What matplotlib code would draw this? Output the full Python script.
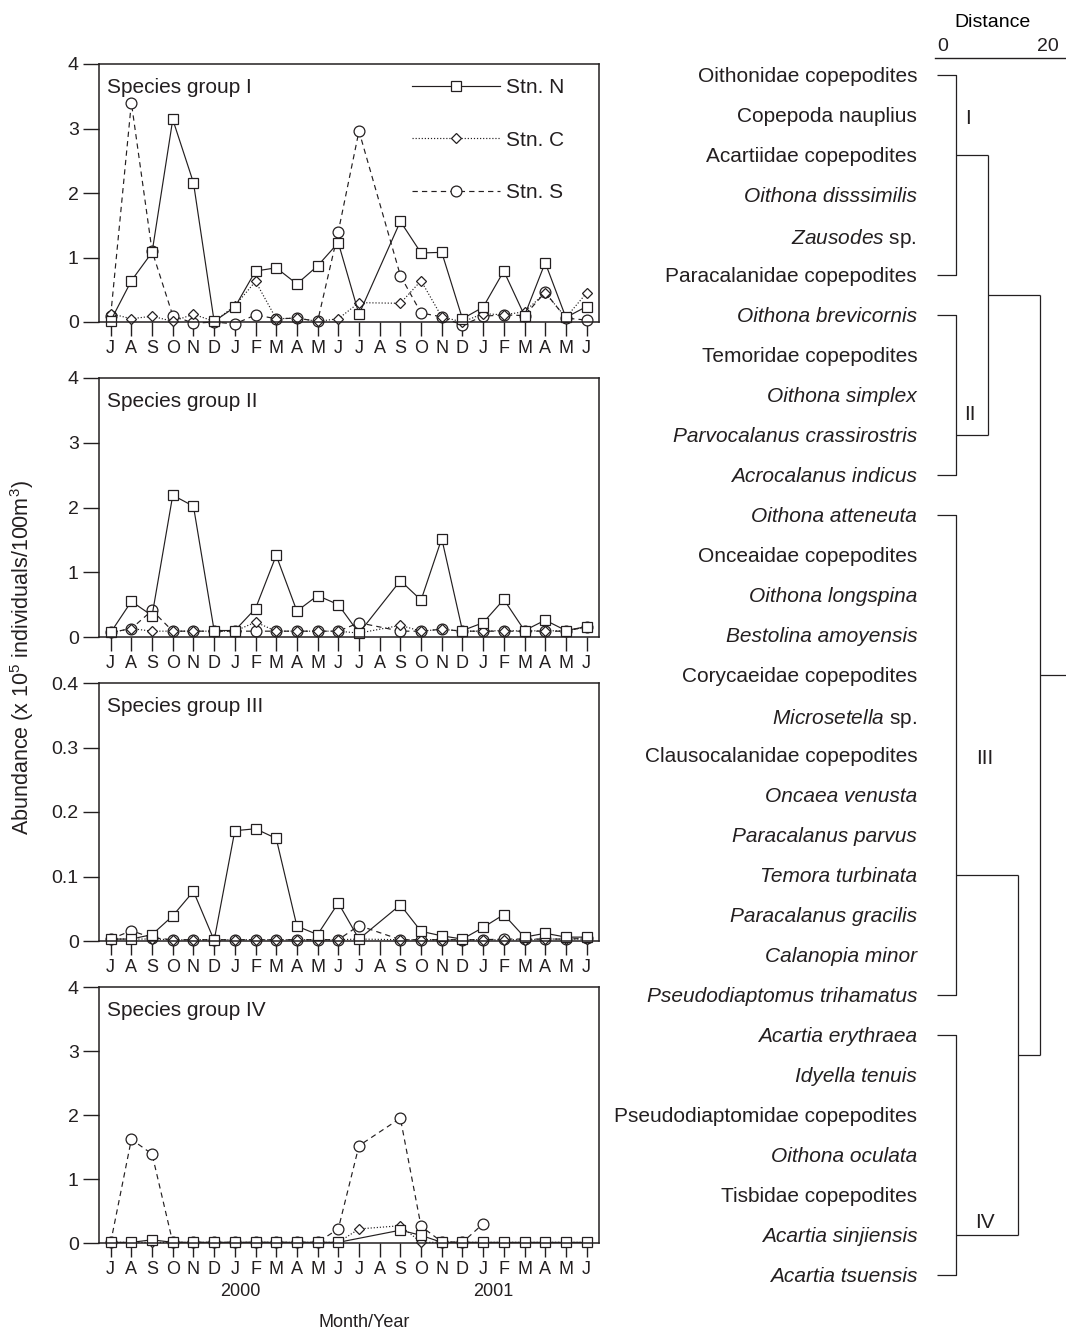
import numpy as np
import matplotlib
matplotlib.use("Agg")
import matplotlib.pyplot as plt

plt.rcParams['font.family'] = ['Liberation Sans', 'DejaVu Sans']
plt.rcParams['mathtext.fontset'] = 'custom'
plt.rcParams['mathtext.rm'] = 'Liberation Sans'
plt.rcParams['mathtext.it'] = 'Liberation Sans:italic'
ink = '#231f20'
plt.rcParams['text.color'] = ink
plt.rcParams['axes.edgecolor'] = ink
plt.rcParams['xtick.color'] = ink
plt.rcParams['ytick.color'] = ink

nan = np.nan

# months from July 1999 to June 2001 (Aug 2000 not sampled)
months = ['J', 'A', 'S', 'O', 'N', 'D', 'J', 'F', 'M', 'A', 'M', 'J',
          'J', 'A', 'S', 'O', 'N', 'D', 'J', 'F', 'M', 'A', 'M', 'J']

# species group I
g1_N = [0.02, 0.64, 1.08, 3.14, 2.16, 0.01, 0.23, 0.79, 0.84, 0.59, 0.87, 1.23,
        0.12, nan, 1.56, 1.07, 1.08, 0.05, 0.23, 0.79, 0.10, 0.92, 0.07, 0.24]
g1_C = [0.13, 0.05, 0.09, 0.01, 0.12, 0.01, 0.25, 0.63, 0.05, 0.06, 0.01, 0.05,
        0.30, nan, 0.29, 0.64, 0.08, 0.00, 0.13, 0.11, 0.16, 0.45, 0.07, 0.45]
g1_S = [0.10, 3.40, 1.10, 0.10, -0.02, 0.00, -0.03, 0.11, 0.05, 0.06, 0.01, 1.40,
        2.96, nan, 0.72, 0.14, 0.08, -0.05, 0.09, 0.11, 0.10, 0.46, 0.06, 0.03]

# species group II
g2_N = [0.07, 0.55, 0.33, 2.19, 2.02, 0.10, 0.10, 0.44, 1.26, 0.40, 0.64, 0.50,
        0.06, nan, 0.87, 0.57, 1.52, 0.10, 0.22, 0.58, 0.10, 0.26, 0.10, 0.16]
g2_C = [0.07, 0.13, 0.09, 0.09, 0.09, 0.09, 0.09, 0.23, 0.09, 0.09, 0.09, 0.09,
        0.06, nan, 0.18, 0.09, 0.12, 0.09, 0.09, 0.10, 0.09, 0.10, 0.09, 0.16]
g2_S = [0.07, 0.13, 0.41, 0.09, 0.09, 0.09, 0.09, 0.09, 0.09, 0.09, 0.09, 0.09,
        0.22, nan, 0.09, 0.09, 0.12, 0.09, 0.09, 0.09, 0.09, 0.09, 0.09, 0.16]

# species group III
g3_N = [0.003, 0.003, 0.010, 0.039, 0.077, 0.001, 0.171, 0.174, 0.159, 0.023, 0.010, 0.059,
        0.003, nan, 0.056, 0.015, 0.008, 0.003, 0.021, 0.041, 0.006, 0.012, 0.006, 0.006]
g3_C = [0.003, 0.003, 0.003, 0.002, 0.002, 0.002, 0.002, 0.002, 0.002, 0.002, 0.002, 0.002,
        0.003, nan, 0.002, 0.002, 0.002, 0.002, 0.002, 0.002, 0.002, 0.003, 0.003, 0.003]
g3_S = [0.003, 0.016, 0.005, 0.002, 0.002, 0.002, 0.002, 0.002, 0.002, 0.002, 0.002, 0.002,
        0.024, nan, 0.002, 0.002, 0.002, 0.002, 0.002, 0.003, 0.003, 0.003, 0.003, 0.004]

# species group IV
g4_N = [0.01, 0.01, 0.05, 0.01, 0.01, 0.01, 0.01, 0.01, 0.01, 0.01, 0.01, 0.01,
        nan, nan, 0.20, 0.12, 0.01, 0.01, 0.01, 0.01, 0.01, 0.01, 0.01, 0.01]
g4_C = [0.01, 0.01, 0.01, 0.01, 0.01, 0.01, 0.01, 0.01, 0.01, 0.01, 0.01, 0.01,
        0.22, nan, 0.27, 0.01, 0.01, 0.01, 0.01, 0.01, 0.01, 0.01, 0.01, 0.01]
g4_S = [0.01, 1.62, 1.39, 0.01, 0.01, 0.01, 0.01, 0.01, 0.01, 0.01, 0.01, 0.22,
        1.52, nan, 1.95, 0.26, 0.02, 0.01, 0.30, nan, nan, nan, nan, nan]

group_titles = ['Species group I', 'Species group II', 'Species group III', 'Species group IV']
group_ymax = [4, 4, 0.4, 4]

# dendrogram: species in order, cluster row ranges and linkage distances
species = ['Oithonidae copepodites', 'Copepoda nauplius', 'Acartiidae copepodites',
           'Oithona disssimilis', 'Zausodes sp.', 'Paracalanidae copepodites',
           'Oithona brevicornis', 'Temoridae copepodites', 'Oithona simplex',
           'Parvocalanus crassirostris', 'Acrocalanus indicus',
           'Oithona atteneuta', 'Onceaidae copepodites', 'Oithona longspina',
           'Bestolina amoyensis', 'Corycaeidae copepodites', 'Microsetella sp.',
           'Clausocalanidae copepodites', 'Oncaea venusta', 'Paracalanus parvus',
           'Temora turbinata', 'Paracalanus gracilis', 'Calanopia minor',
           'Pseudodiaptomus trihamatus',
           'Acartia erythraea', 'Idyella tenuis', 'Pseudodiaptomidae copepodites',
           'Oithona oculata', 'Tisbidae copepodites', 'Acartia sinjiensis',
           'Acartia tsuensis']
cluster_names = ['I', 'II', 'III', 'IV']
cluster_first = [0, 6, 11, 24]
cluster_last = [5, 10, 23, 30]
cluster_join = [2, 9, 20, 29]
cluster_dist = 2.4
link_I_II = 8.5
link_III_IV = 14.3
link_root = 18.5

W, H = 1066, 1333
fig = plt.figure(figsize=(W / 100, H / 100), dpi=100)


def px_axes(left, top, right, bottom):
    return fig.add_axes([left / W, 1 - bottom / H, (right - left) / W, (bottom - top) / H])


tops = [64, 378, 683, 987]
bottoms = [322, 637, 941, 1243]
series = [(g1_N, g1_C, g1_S), (g2_N, g2_C, g2_S), (g3_N, g3_C, g3_S), (g4_N, g4_C, g4_S)]
x = np.arange(len(months))

for k in range(4):
    ax = px_axes(99, tops[k], 599, bottoms[k])
    N, C, S = [np.array(s, dtype=float) for s in series[k]]
    handles = {}
    # stations S and C below, N on top
    for name, vals, mk, ms, dash in [('Stn. S', S, 'o', 7.8, (4.5, 3.5)),
                                     ('Stn. C', C, 'D', 4.6, (1.0, 1.6)),
                                     ('Stn. N', N, 's', 7.8, None)]:
        ok = ~np.isnan(vals)
        line, = ax.plot(x[ok], vals[ok], color=ink, lw=0.85, marker=mk, ms=ms,
                        mfc='white', mec=ink, mew=0.9, clip_on=False)
        if dash is not None:
            line.set_dashes(dash)
        handles[name] = line
    ax.set_xlim(-0.565, 23.6)
    ymax = group_ymax[k]
    ax.set_ylim(0, ymax)
    yt = np.linspace(0, ymax, 5)
    ax.set_yticks(yt)
    if ymax < 1:
        ax.set_yticklabels(['0'] + ['%.1f' % v for v in yt[1:]])
    else:
        ax.set_yticklabels(['%d' % v for v in yt])
    ax.set_xticks(x)
    ax.set_xticklabels(months)
    ax.tick_params(axis='x', direction='out', length=10, width=1, pad=3, labelsize=13)
    ax.tick_params(axis='y', direction='out', length=11.5, width=1, pad=3, labelsize=14)
    for sp in ax.spines.values():
        sp.set_linewidth(1.1)
    ax.text(0.0154, 0.91, group_titles[k], transform=ax.transAxes, fontsize=15, va='center')
    if k == 0:
        ax.legend([handles['Stn. N'], handles['Stn. C'], handles['Stn. S']],
                  ['Stn. N', 'Stn. C', 'Stn. S'], loc='upper left',
                  bbox_to_anchor=((412 - 99) / 500, 1 - (78 - 64) / 258),
                  frameon=False, handlelength=4.2, handletextpad=0.3,
                  labelspacing=1.62, borderpad=0, borderaxespad=0, fontsize=15,
                  numpoints=1)
    if k == 3:
        ax.text(6.25, -0.19, '2000', transform=ax.get_xaxis_transform(),
                ha='center', va='center', fontsize=13)
        ax.text(18.5, -0.19, '2001', transform=ax.get_xaxis_transform(),
                ha='center', va='center', fontsize=13)
        ax.text(0.53, -0.31, 'Month/Year', transform=ax.transAxes,
                ha='center', va='center', fontsize=13)

fig.text(22 / W, 1 - 658 / H, 'Abundance (x 10$^5$ individuals/100m$^3$)',
         rotation=90, ha='center', va='center', fontsize=15.5)

# dendrogram
dx = px_axes(920, 58, 1066, 1295)
x0 = (920 - 943) / 5.25
x1 = (1066 - 943) / 5.25
dx.set_xlim(x0, x1)
dx.set_ylim(30.5, -0.425)
stub = -1.2
lk = dict(color=ink, lw=0.9, solid_capstyle='butt')
for i in range(4):
    a, b = cluster_first[i], cluster_last[i]
    dx.plot([stub, cluster_dist, cluster_dist, stub], [a, a, b, b], **lk)
mid12 = (cluster_join[0] + cluster_join[1]) / 2
mid34 = (cluster_join[2] + cluster_join[3]) / 2
for j, d in [(0, link_I_II), (1, link_I_II), (2, link_III_IV), (3, link_III_IV)]:
    dx.plot([cluster_dist, d], [cluster_join[j]] * 2, **lk)
dx.plot([link_I_II, link_I_II], [cluster_join[0], cluster_join[1]], **lk)
dx.plot([link_III_IV, link_III_IV], [cluster_join[2], cluster_join[3]], **lk)
dx.plot([link_I_II, link_root], [mid12, mid12], **lk)
dx.plot([link_III_IV, link_root], [mid34, mid34], **lk)
dx.plot([link_root, link_root], [mid12, mid34], **lk)
dx.plot([link_root, x1 + 1], [(mid12 + mid34) / 2] * 2, clip_on=True, **lk)

for name, tx, ty in zip(cluster_names, [4.76, 5.1, 8.0, 8.0], [1.1, 8.5, 17.1, 28.7]):
    dx.text(tx, ty, name, ha='center', va='center', fontsize=15)

labels = []
for s in species:
    if 'copepodites' in s or 'nauplius' in s:
        labels.append(s)
    elif s.endswith(' sp.'):
        labels.append('$\\mathit{%s}$ sp.' % s[:-4])
    else:
        labels.append(s)
dx.set_yticks(range(len(species)))
dx.set_yticklabels(labels)
for t, s in zip(dx.get_yticklabels(), species):
    if not ('copepodites' in s or 'nauplius' in s or s.endswith(' sp.')):
        t.set_fontstyle('italic')
dx.tick_params(axis='y', length=0, pad=2, labelsize=15)

dx.xaxis.tick_top()
dx.xaxis.set_label_position('top')
dx.set_xticks([0, 20])
dx.set_xticklabels(['0', '20'])
dx.tick_params(axis='x', length=0, pad=2, labelsize=14)
dx.set_xlabel('Distance', fontsize=14, labelpad=8)
for side in ['left', 'right', 'bottom']:
    dx.spines[side].set_visible(False)
dx.spines['top'].set_bounds(-1.5, x1)
dx.spines['top'].set_linewidth(1.0)
dx.patch.set_visible(False)

fig.savefig('out.png', dpi=100)
